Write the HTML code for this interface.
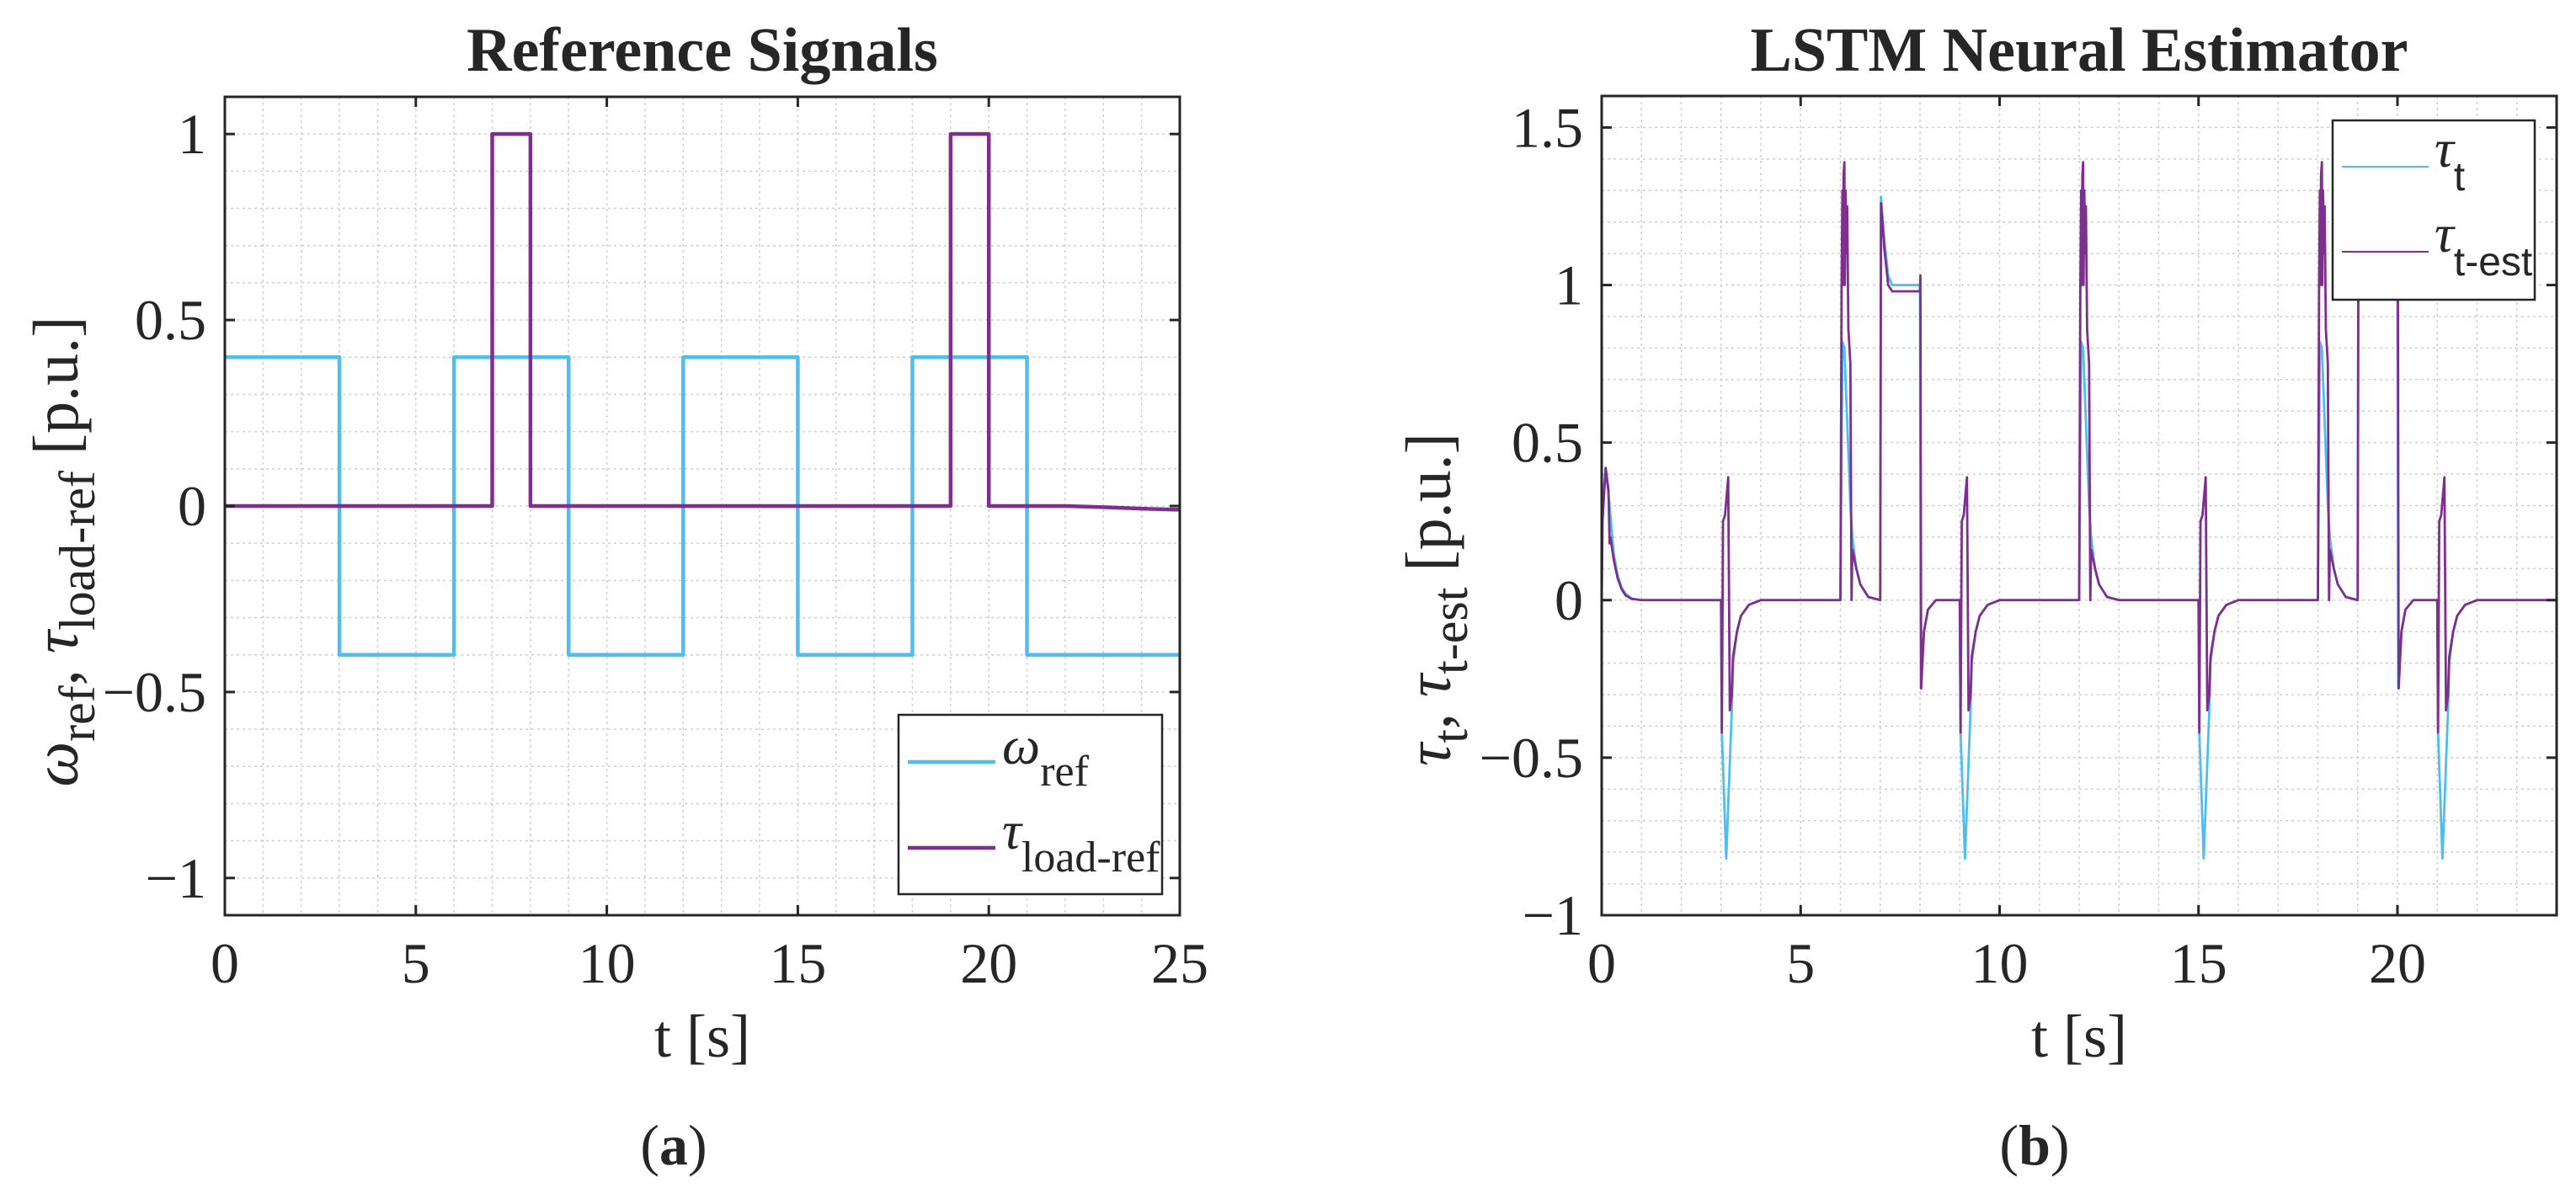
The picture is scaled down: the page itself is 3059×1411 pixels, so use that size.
<!DOCTYPE html>
<html><head><meta charset="utf-8">
<style>
html,body{margin:0;padding:0;background:#fff;}
svg{display:block;}
text{font-family:"Liberation Serif",serif;fill:#262626;}
</style></head>
<body>
<svg id="fig" width="3059" height="1411" viewBox="0 0 3059 1411" xmlns="http://www.w3.org/2000/svg">
  <rect width="3059" height="1411" fill="#fff"/>
  <g id="chartA"></g>
  <g id="chartB"></g>
  <text x="800" y="1383" text-anchor="middle" font-size="68">(<tspan font-weight="bold">a</tspan>)</text>
  <text x="2416" y="1383" text-anchor="middle" font-size="68">(<tspan font-weight="bold">b</tspan>)</text>
</svg>
<script>
// ---- Chart A data ----
const aOmegaT = [0, 3, 3, 6, 6, 9, 9, 12, 12, 15, 15, 18, 18, 21, 21, 25];
const aOmegaV = [0.4, 0.4, -0.4, -0.4, 0.4, 0.4, -0.4, -0.4, 0.4, 0.4, -0.4, -0.4, 0.4, 0.4, -0.4, -0.4];
const aTauT = [0, 7, 7, 8, 8, 19, 19, 20, 20, 22, 23, 24, 25];
const aTauV = [0, 0, 1, 1, 0, 0, 1, 1, 0, 0, -0.003, -0.007, -0.01];
const aXTicks = [0, 5, 10, 15, 20, 25];
const aYTicks = [-1, -0.5, 0, 0.5, 1];
const aYTickLabels = ["\u22121", "\u22120.5", "0", "0.5", "1"];

// ---- Chart B data ----
const bTrueT = [0,0.02,0.1,0.2,0.3,0.4,0.5,0.6,0.75,1,
 3,3.02,3.13,3.27,3.3,3.4,3.5,3.7,4,
 6,6.05,6.1,6.25,6.3,6.4,6.5,6.7,7,7.02,7.1,7.2,7.3,8,8.02,8.1,8.2,8.4,
 9,9.02,9.13,9.27,9.3,9.4,9.5,9.7,10,
 12,12.05,12.1,12.25,12.3,12.4,12.5,12.7,13,
 15,15.02,15.13,15.27,15.3,15.4,15.5,15.7,16,
 18,18.05,18.1,18.25,18.3,18.4,18.5,18.7,19,19.02,19.1,19.2,19.3,20,20.02,20.1,20.2,20.4,
 21,21.02,21.13,21.27,21.3,21.4,21.5,21.7,22,24];
const bTrueV = [0,0.3,0.42,0.3,0.15,0.08,0.04,0.02,0.005,0,
 0,-0.42,-0.82,-0.35,-0.2,-0.1,-0.05,-0.015,0,
 0,0.82,0.8,0.3,0.2,0.1,0.05,0.01,0,1.28,1.15,1.03,1.0,1.0,-0.28,-0.1,-0.03,0,
 0,-0.42,-0.82,-0.35,-0.2,-0.1,-0.05,-0.015,0,
 0,0.82,0.8,0.3,0.2,0.1,0.05,0.01,0,
 0,-0.42,-0.82,-0.35,-0.2,-0.1,-0.05,-0.015,0,
 0,0.82,0.8,0.3,0.2,0.1,0.05,0.01,0,1.28,1.15,1.03,1.0,1.0,-0.28,-0.1,-0.03,0,
 0,-0.42,-0.82,-0.35,-0.2,-0.1,-0.05,-0.015,0,0];
const bEstT = [0,0.02,0.1,0.17,0.2,0.22,0.3,0.4,0.5,0.6,0.75,1,
 3,3.02,3.05,3.1,3.18,3.22,3.27,3.3,3.4,3.5,3.7,4,
 6,6.03,6.05,6.06,6.08,6.1,6.11,6.13,6.15,6.17,6.2,6.25,6.28,6.3,6.4,6.5,6.7,7,7.02,7.1,7.2,7.3,8,8.01,8.03,8.1,8.2,8.4,
 9,9.02,9.05,9.1,9.18,9.22,9.27,9.3,9.4,9.5,9.7,10,
 12,12.03,12.05,12.06,12.08,12.1,12.11,12.13,12.15,12.17,12.2,12.25,12.28,12.3,12.4,12.5,12.7,13,
 15,15.02,15.05,15.1,15.18,15.22,15.27,15.3,15.4,15.5,15.7,16,
 18,18.03,18.05,18.06,18.08,18.1,18.11,18.13,18.15,18.17,18.2,18.25,18.28,18.3,18.4,18.5,18.7,19,19.02,19.1,19.2,19.3,20,20.01,20.03,20.1,20.2,20.4,
 21,21.02,21.05,21.1,21.18,21.22,21.27,21.3,21.4,21.5,21.7,22,24];
const bEstV = [0,0.25,0.42,0.35,0.18,0.2,0.13,0.07,0.035,0.015,0.004,0,
 0,-0.42,0.25,0.27,0.39,-0.35,-0.3,-0.18,-0.1,-0.05,-0.015,0,
 0,1.0,1.3,1.0,1.35,1.39,1.0,1.3,1.1,1.25,0.86,0.75,0,0.16,0.1,0.05,0.01,0,1.26,1.12,1.0,0.98,0.98,1.03,-0.28,-0.1,-0.03,0,
 0,-0.42,0.25,0.27,0.39,-0.35,-0.3,-0.18,-0.1,-0.05,-0.015,0,
 0,1.0,1.3,1.0,1.35,1.39,1.0,1.3,1.1,1.25,0.86,0.75,0,0.16,0.1,0.05,0.01,0,
 0,-0.42,0.25,0.27,0.39,-0.35,-0.3,-0.18,-0.1,-0.05,-0.015,0,
 0,1.0,1.3,1.0,1.35,1.39,1.0,1.3,1.1,1.25,0.86,0.75,0,0.16,0.1,0.05,0.01,0,1.26,1.12,1.0,0.98,0.98,1.03,-0.28,-0.1,-0.03,0,
 0,-0.42,0.25,0.27,0.39,-0.35,-0.3,-0.18,-0.1,-0.05,-0.015,0,0];
const bXTicks = [0, 5, 10, 15, 20];
const bYTicks = [-1, -0.5, 0, 0.5, 1, 1.5];
const bYTickLabels = ["\u22121", "\u22120.5", "0", "0.5", "1", "1.5"];

const NS = "http://www.w3.org/2000/svg";
const BLUE = "#4DBEEE", PURPLE = "#7E2F8E";
function mk(tag, attrs, parent) {
  const e = document.createElementNS(NS, tag);
  for (const k in attrs) e.setAttribute(k, attrs[k]);
  parent.appendChild(e);
  return e;
}

function drawAxes(g, box, xmin, xmax, ymin, ymax, xMinorStep, yMinorStep) {
  const sx = v => box.l + (v - xmin) / (xmax - xmin) * (box.r - box.l);
  const sy = v => box.b - (v - ymin) / (ymax - ymin) * (box.b - box.t);
  const grid = mk("g", {}, g);
  
  
  for (let i = 1; xmin + i * xMinorStep < xmax - 1e-9; i++) {
    const x = sx(xmin + i * xMinorStep);
    const ln = mk("line", {x1: x, x2: x, y1: box.t, y2: box.b, stroke: "#cfcfcf", "stroke-width": 1.5, "stroke-dasharray": "3 4"}, grid);
    
    
  }
  for (let i = 1; ymin + i * yMinorStep < ymax - 1e-9; i++) {
    const y = sy(ymin + i * yMinorStep);
    const ln = mk("line", {x1: box.l, x2: box.r, y1: y, y2: y, stroke: "#cfcfcf", "stroke-width": 1.5, "stroke-dasharray": "3 4"}, grid);
    
    
  }
  return {sx, sy};
}

function drawFrame(g, box, sx, sy, xTicks, yTicks, yLabels) {
  const fr = mk("rect", {x: box.l, y: box.t, width: box.r - box.l, height: box.b - box.t, fill: "none", stroke: "#262626", "stroke-width": 3}, g);
  
  
  xTicks.forEach(v => {
    const x = sx(v);
    mk("line", {x1: x, x2: x, y1: box.b, y2: box.b - 12, stroke: "#262626", "stroke-width": 3}, g);
    mk("line", {x1: x, x2: x, y1: box.t, y2: box.t + 12, stroke: "#262626", "stroke-width": 3}, g);
    const t = mk("text", {x: x, y: box.b + 80, "text-anchor": "middle", "font-size": 68}, g);
    t.textContent = String(v);
    
    
  });
  yTicks.forEach((v, i) => {
    const y = sy(v);
    mk("line", {x1: box.l, x2: box.l + 12, y1: y, y2: y, stroke: "#262626", "stroke-width": 3}, g);
    mk("line", {x1: box.r, x2: box.r - 12, y1: y, y2: y, stroke: "#262626", "stroke-width": 3}, g);
    const t = mk("text", {x: box.l - 22, y: y + 23, "text-anchor": "end", "font-size": 68}, g);
    t.textContent = yLabels[i];
    
    
  });
}

function series(g, ts, vs, sx, sy, color, w, name) {
  const pts = ts.map((t, i) => sx(t).toFixed(2) + "," + sy(vs[i]).toFixed(2)).join(" ");
  const p = mk("polyline", {points: pts, fill: "none", stroke: color, "stroke-width": w, "stroke-linejoin": "round"}, g);
  
  
  return p;
}

// ---- Chart A ----
(function () {
  const g = document.getElementById("chartA");
  const box = {l: 267, r: 1401, t: 115, b: 1087};
  const {sx, sy} = drawAxes(g, box, 0, 25, -1.1, 1.1, 1, 0.1);
  series(g, aOmegaT, aOmegaV, sx, sy, BLUE, 4.5, "omega-ref-line");
  series(g, aTauT, aTauV, sx, sy, PURPLE, 4.5, "tau-load-ref-line");
  const lg = mk("g", {}, g);
  
  
  mk("rect", {x: 1067, y: 849, width: 313, height: 213, fill: "#fff", stroke: "#262626", "stroke-width": 2.5}, lg);
  mk("line", {x1: 1078, x2: 1182, y1: 905, y2: 905, stroke: BLUE, "stroke-width": 4.5}, lg);
  mk("line", {x1: 1078, x2: 1182, y1: 1007, y2: 1007, stroke: PURPLE, "stroke-width": 4.5}, lg);
  const t1 = mk("text", {x: 1190, y: 907, "font-size": 64, "font-style": "italic"}, lg);
  t1.innerHTML = 'ω<tspan font-style="normal" font-size="52" dy="26">ref</tspan>';
  
  
  const t2 = mk("text", {x: 1190, y: 1008, "font-size": 64, "font-style": "italic"}, lg);
  t2.innerHTML = 'τ<tspan font-style="normal" font-size="52" dy="27">load-ref</tspan>';
  
  
  drawFrame(g, box, sx, sy, aXTicks, aYTicks, aYTickLabels);
  const ti = mk("text", {x: 834, y: 84, "text-anchor": "middle", "font-size": 74, "font-weight": "bold", fill: "#000"}, g);
  ti.textContent = "Reference Signals";
  
  
  const xl = mk("text", {x: 834, y: 1255, "text-anchor": "middle", "font-size": 72}, g);
  xl.textContent = "t [s]";
  
  
  const yl = mk("text", {x: 0, y: 0, "text-anchor": "middle", "font-size": 76, transform: "translate(92,655) rotate(-90)"}, g);
  yl.innerHTML = '<tspan font-style="italic">ω</tspan><tspan font-size="60" dy="20">ref</tspan><tspan dy="-20">, </tspan><tspan font-style="italic">τ</tspan><tspan font-size="60" dy="20">load-ref</tspan><tspan dy="-20"> [p.u.]</tspan>';
  
  
})();

// ---- Chart B ----
(function () {
  const g = document.getElementById("chartB");
  const box = {l: 1902, r: 3036, t: 114, b: 1087};
  const {sx, sy} = drawAxes(g, box, 0, 24, -1, 1.6, 1, 0.1);
  series(g, bTrueT, bTrueV, sx, sy, BLUE, 2.8, "tau-t-line");
  series(g, bEstT, bEstV, sx, sy, PURPLE, 2.8, "tau-t-est-line");
  const lg = mk("g", {}, g);
  
  
  mk("rect", {x: 2770, y: 143, width: 240, height: 213, fill: "#fff", stroke: "#262626", "stroke-width": 2.5}, lg);
  mk("line", {x1: 2781, x2: 2884, y1: 198, y2: 198, stroke: BLUE, "stroke-width": 2}, lg);
  mk("line", {x1: 2781, x2: 2884, y1: 299, y2: 299, stroke: PURPLE, "stroke-width": 2}, lg);
  const t1 = mk("text", {x: 2891, y: 198, "font-size": 64, "font-style": "italic"}, lg);
  t1.innerHTML = 'τ<tspan font-style="normal" font-family="Liberation Sans, sans-serif" font-size="48" dy="28">t</tspan>';
  
  
  const t2 = mk("text", {x: 2891, y: 299, "font-size": 64, "font-style": "italic"}, lg);
  t2.innerHTML = 'τ<tspan font-style="normal" font-family="Liberation Sans, sans-serif" font-size="48" dy="28">t-est</tspan>';
  
  
  drawFrame(g, box, sx, sy, bXTicks, bYTicks, bYTickLabels);
  const ti = mk("text", {x: 2469, y: 84, "text-anchor": "middle", "font-size": 74, "font-weight": "bold", fill: "#000"}, g);
  ti.textContent = "LSTM Neural Estimator";
  
  
  const xl = mk("text", {x: 2469, y: 1255, "text-anchor": "middle", "font-size": 72}, g);
  xl.textContent = "t [s]";
  
  
  const yl = mk("text", {x: 0, y: 0, "text-anchor": "middle", "font-size": 76, transform: "translate(1722,712) rotate(-90)"}, g);
  yl.innerHTML = '<tspan font-style="italic">τ</tspan><tspan font-size="60" dy="20">t</tspan><tspan dy="-20">, </tspan><tspan font-style="italic">τ</tspan><tspan font-size="60" dy="20">t-est</tspan><tspan dy="-20"> [p.u.]</tspan>';
  
  
})();
</script>
</body></html>
